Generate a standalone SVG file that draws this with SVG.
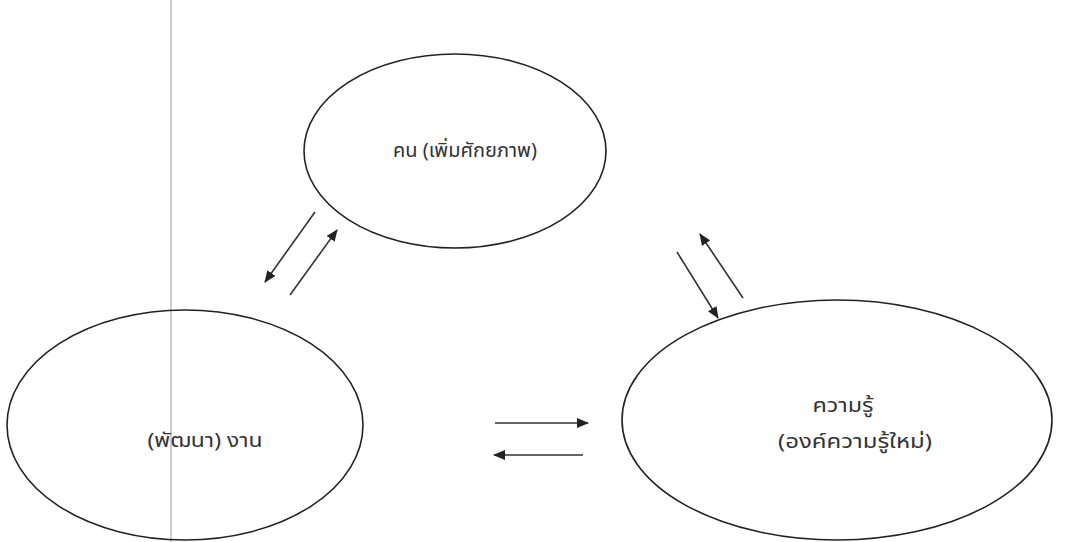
<svg xmlns="http://www.w3.org/2000/svg" width="1069" height="542" viewBox="0 0 1069 542">
<style>
.node ellipse{fill:none;stroke:#222;stroke-width:1.6}
.lbl{font-family:"Noto Sans Thai","Noto Sans","DejaVu Sans",sans-serif;font-size:20px;fill:#333;text-anchor:middle}
.conn line{stroke:#333;stroke-width:1.6;marker-end:url(#ah)}
</style>
<defs>
<marker id="ah" viewBox="0 0 12 10" refX="11" refY="5" markerWidth="12" markerHeight="10" markerUnits="userSpaceOnUse" orient="auto">
<path d="M0,0 L12,5 L0,10 Z" fill="#222"/>
</marker>
</defs>
<rect width="1069" height="542" fill="#fff"/>
<line x1="171" y1="0" x2="171" y2="542" stroke="#bdbdbd" stroke-width="1.5"/>
<g id="node-people" class="node">
<ellipse cx="455" cy="151" rx="151" ry="97"/>
<text class="lbl" x="465" y="157" textLength="144" lengthAdjust="spacingAndGlyphs">คน (เพิ่มศักยภาพ)</text>
</g>
<g id="node-work" class="node">
<ellipse cx="185" cy="425" rx="178" ry="115"/>
<text class="lbl" x="205" y="447" textLength="115" lengthAdjust="spacingAndGlyphs">(พัฒนา) งาน</text>
</g>
<g id="node-knowledge" class="node">
<ellipse cx="837" cy="420" rx="215" ry="120"/>
<text class="lbl" x="843" y="412" textLength="61" lengthAdjust="spacingAndGlyphs">ความรู้</text>
<text class="lbl" x="855" y="448" textLength="154" lengthAdjust="spacingAndGlyphs">(องค์ความรู้ใหม่)</text>
</g>
<g id="connectors" class="conn">
<line x1="315" y1="212" x2="265" y2="282"/>
<line x1="290" y1="295" x2="337" y2="230"/>
<line x1="677" y1="252" x2="718" y2="318"/>
<line x1="743" y1="298" x2="700" y2="234"/>
<line x1="495" y1="423" x2="588" y2="423"/>
<line x1="583" y1="455" x2="494" y2="455"/>
</g>
</svg>
